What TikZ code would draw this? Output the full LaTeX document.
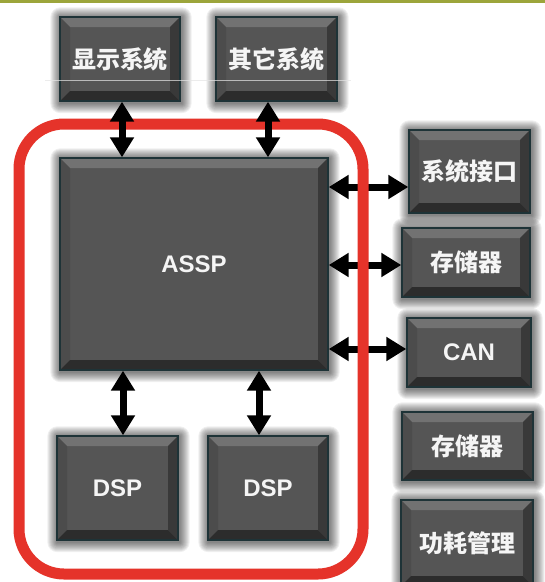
\documentclass[tikz,border=0pt]{standalone}
\usepackage{fontspec}
\setmainfont{Liberation Sans}
\newfontfamily\cjk{Noto Sans CJK SC}
\usetikzlibrary{arrows.meta}
\pgfdeclarelayer{bg}
\pgfsetlayers{bg,main}
\definecolor{facec}{HTML}{555555}
\definecolor{bevtop}{HTML}{727272}
\definecolor{bevleft}{HTML}{4C4C4C}
\definecolor{bevright}{HTML}{393939}
\definecolor{bevbot}{HTML}{2C2C2C}
\definecolor{bordc}{HTML}{1E3337}
\definecolor{redc}{HTML}{E5332A}
\definecolor{olivec}{HTML}{9CA53B}
\tikzset{
  bx/.style={rectangle, draw=bordc, line width=1.4pt, fill=facec, inner sep=0pt,
    text=white!96!black,
    path picture={
      \fill[bevtop] (path picture bounding box.north west) -- (path picture bounding box.north east)
        -- ([xshift=-10pt,yshift=-10pt]path picture bounding box.north east)
        -- ([xshift=10pt,yshift=-10pt]path picture bounding box.north west) -- cycle;
      \fill[bevleft] (path picture bounding box.north west) -- (path picture bounding box.south west)
        -- ([xshift=10pt,yshift=10pt]path picture bounding box.south west)
        -- ([xshift=10pt,yshift=-10pt]path picture bounding box.north west) -- cycle;
      \fill[bevright] (path picture bounding box.north east) -- (path picture bounding box.south east)
        -- ([xshift=-10pt,yshift=10pt]path picture bounding box.south east)
        -- ([xshift=-10pt,yshift=-10pt]path picture bounding box.north east) -- cycle;
      \fill[bevbot] (path picture bounding box.south west) -- (path picture bounding box.south east)
        -- ([xshift=-10pt,yshift=10pt]path picture bounding box.south east)
        -- ([xshift=10pt,yshift=10pt]path picture bounding box.south west) -- cycle;
    }},
  cn/.style={bx, font=\cjk\bfseries\fontsize{24}{28}\selectfont},
  en/.style={bx, font=\bfseries\fontsize{24}{28}\selectfont},
  glowlayer/.style={fill=black, opacity=0.06},
  arr/.style={line width=7pt, {Triangle[length=20pt,width=23pt]}-{Triangle[length=20pt,width=23pt]}},
  frame/.style={draw=redc, line width=11pt, rounded corners=45pt}
}
\newcommand{\boxglow}[1]{%
  \foreach \k in {1,...,10}{%
    \fill[glowlayer, rounded corners=\k pt]
      ([shift={(-\k pt+1pt,\k pt-1pt)}]#1.north west) rectangle ([shift={(\k pt+1pt,-\k pt-1.5pt)}]#1.south east);
  }}
\begin{document}
\begin{tikzpicture}[x=1pt,y=-1pt]
\useasboundingbox (0,0) rectangle (545,582);
\begin{pgfonlayer}{bg}
\fill[white] (0,0) rectangle (545,582);
\end{pgfonlayer}
\fill[olivec] (0,0) rectangle (545,2.5);
% boxes
\node[cn, minimum width=120pt, minimum height=84pt] (disp)  at (120,59)    {显示系统};
\node[cn, minimum width=121pt, minimum height=84pt] (other) at (276.5,59)  {其它系统};
\node[en, minimum width=268pt, minimum height=212pt] (assp) at (194,264)   {ASSP};
\node[cn, minimum width=121pt, minimum height=83pt] (sysif) at (469.5,171.5) {系统接口};
\node[cn, minimum width=128pt, minimum height=69pt] (mema)  at (466,262.5) {存储器};
\node[en, minimum width=124pt, minimum height=69pt] (can)   at (469,352.5) {CAN};
\node[cn, minimum width=131pt, minimum height=68pt] (memb)  at (467.5,446) {存储器};
\node[cn, minimum width=132pt, minimum height=86pt] (power) at (467,543)   {功耗管理};
\node[en, minimum width=121pt, minimum height=104pt] (dspa) at (117.5,488) {DSP};
\node[en, minimum width=120pt, minimum height=104pt] (dspb) at (268,488)   {DSP};
% soft glow behind the boxes
\begin{pgfonlayer}{bg}
\boxglow{disp}\boxglow{other}\boxglow{assp}\boxglow{sysif}\boxglow{mema}
\boxglow{can}\boxglow{memb}\boxglow{power}\boxglow{dspa}\boxglow{dspb}
\end{pgfonlayer}
% horizontal arrows (under the red frame)
\coordinate (ha) at ([yshift=-15.5pt]sysif.west);
\coordinate (hb) at ([yshift=-2.5pt]mema.west);
\coordinate (hc) at ([yshift=3.5pt]can.west);
\draw[arr] (ha -| assp.east) -- (ha);
\draw[arr] (hb -| assp.east) -- (hb);
\draw[arr] (hc -| assp.east) -- (hc);
% red frame
\draw[frame] (19,124) rectangle (363,574);
% vertical arrows
\coordinate (va) at ([xshift=2pt]disp.south);
\coordinate (vb) at ([xshift=-8.5pt]other.south);
\coordinate (vc) at ([xshift=5.5pt]dspa.north);
\coordinate (vd) at ([xshift=-9pt]dspb.north);
\draw[arr] (va) -- (va |- assp.north);
\draw[arr] (vb) -- (vb |- assp.north);
\draw[arr] (vc |- assp.south) -- (vc);
\draw[arr] (vd |- assp.south) -- (vd);
% faint scan line
\draw[white!80!gray, line width=0.7pt, opacity=0.7] (45,80) -- (351,80);
\end{tikzpicture}
\end{document}
